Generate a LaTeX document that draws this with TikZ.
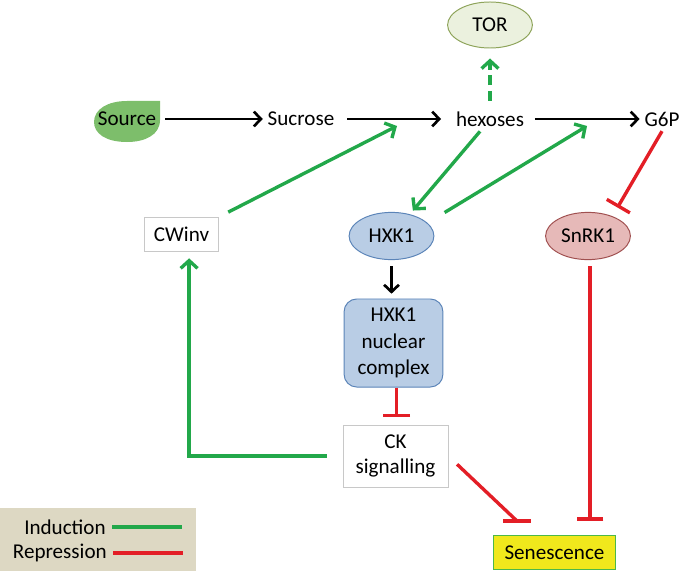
\documentclass[tikz,border=0pt]{standalone}
\usepackage{fontspec}
\setmainfont{Carlito}
\usepackage{tikz}
\usetikzlibrary{arrows.meta,positioning,shapes.geometric}
\definecolor{cind}{HTML}{22A84A}
\definecolor{crep}{HTML}{E31E26}
\definecolor{csource}{HTML}{7DBE6B}
\definecolor{ctorfill}{HTML}{EBF1DE}
\definecolor{ctordraw}{HTML}{8EA45A}
\definecolor{chxkfill}{HTML}{B9CDE5}
\definecolor{chxkdraw}{HTML}{5B84B8}
\definecolor{csnrfill}{HTML}{E6B9B8}
\definecolor{csnrdraw}{HTML}{A05050}
\definecolor{csenfill}{HTML}{F0E81C}
\definecolor{csendraw}{HTML}{4CB848}
\definecolor{clegend}{HTML}{DDD8C3}
\definecolor{cbox}{HTML}{C8C8C8}

\begin{document}
\begin{tikzpicture}[x=0.025cm,y=-0.025cm,
  font=\fontsize{15}{18}\selectfont,
  induce/.style={draw=cind,line width=2.4pt,-{Straight Barb[length=5.5pt,width=12pt]}},
  repline/.style={draw=crep,line width=2.4pt},
  repress/.style={repline,-{Bar[width=19pt]}},
  flow/.style={draw=black,line width=1.9pt,-{Straight Barb[length=5pt,width=10.5pt]}},
  plainbox/.style={draw=cbox,fill=white,line width=0.6pt,inner sep=0pt,align=center},
  blob/.style={ellipse,line width=0.7pt,minimum width=2.12cm,minimum height=1.18cm,inner sep=0pt}]
  \useasboundingbox (0,0) rectangle (681,571);
  \fill[clegend] (0,508) rectangle (196,571);
  % leaf behind the source label
  \fill[csource] (160,101) -- (160,120) .. controls (160,135) and (145,142) .. (127,142)
    .. controls (105,142) and (94,133) .. (94,122) .. controls (94,109) and (108,101) .. (127,101) -- cycle;
  \node[minimum width=1.65cm,minimum height=1.03cm,inner sep=0pt] (src) at (127,119) {Source};
  \node (suc) at (301,119) {Sucrose};
  \node (hex) at (490,119) {hexoses};
  \node (g6p) at (662,119) {G6P};
  \node[blob,draw=ctordraw,fill=ctorfill,minimum height=1.15cm] (tor) at (490,25) {TOR};
  \node[plainbox,minimum width=1.87cm,minimum height=0.87cm] (cwinv) at (181.5,234.5) {CWinv};
  \node[blob,draw=chxkdraw,fill=chxkfill] (hxk) at (391.5,236) {HXK1};
  \node[blob,draw=csnrdraw,fill=csnrfill] (snrk) at (588,236) {SnRK1};
  \node[draw=chxkdraw,fill=chxkfill,line width=0.7pt,rounded corners=9pt,
    minimum width=2.47cm,minimum height=2.2cm,inner sep=0pt,align=center,
    font=\fontsize{15}{19}\selectfont] (hxkn) at (393.5,343) {HXK1\\nuclear\\complex};
  \node[plainbox,minimum width=2.62cm,minimum height=1.55cm] (ck) at (395.5,456) {CK\\signalling};
  \node[draw=csendraw,fill=csenfill,line width=0.8pt,minimum width=3.07cm,
    minimum height=0.87cm,inner sep=0pt] (sen) at (554.5,552.5) {Senescence};
  \coordinate (sucin) at (397,126);
  \coordinate (g6pin) at (587,126);
  \coordinate (cksen) at (517,521);
  % main flow
  \draw[flow,shorten <=0.12cm] (src) -- (suc);
  \draw[flow,shorten <=0.2cm,shorten >=0.25cm] (suc) -- (hex);
  \draw[flow,shorten <=0.15cm] (hex) -- (g6p);
  \draw[induce,dash pattern=on 7pt off 4pt,shorten <=0.15cm,shorten >=0.25cm] (hex) -- (tor);
  % induction
  \draw[induce,shorten <=0.25cm] (cwinv.north east) -- (sucin);
  \draw[induce,shorten >=0.12cm] ([xshift=-0.25cm]hex.south) -- (hxk.50);
  \draw[induce,shorten <=0.5cm] (hxk.20) -- (g6pin);
  \draw[flow,shorten <=0.15cm,shorten >=0.12cm] (hxk.south) -- (hxk.south |- hxkn.north);
  \draw[induce,shorten <=0.4cm,shorten >=0.15cm] (ck.west) -| ([xshift=0.19cm]cwinv.south);
  % repression
  \draw[repress,shorten >=0.25cm] (g6p.south) -- (snrk.39);
  \draw[repress,shorten >=0.18cm] ([xshift=0.08cm]hxkn.south) -- ([xshift=0.08cm]hxkn.south |- ck.north);
  \draw[repress,shorten <=0.15cm,shorten >=0.35cm] ([xshift=0.05cm]snrk.south) -- ([xshift=0.05cm]snrk.south |- sen.north);
  \draw[repline,shorten <=0.3cm] (ck.east) -- (cksen);
  \draw[repline] ([xshift=-0.34cm]cksen) -- ([xshift=0.34cm]cksen);
  % legend
  \node[anchor=east,inner sep=0pt] (indlab) at (106,527) {Induction};
  \node[anchor=east,inner sep=0pt] (replab) at (107,553) {Repression};
  \draw[draw=cind,line width=2.4pt] ([xshift=0.15cm]indlab.east) -- ++(70,0);
  \draw[repline] ([xshift=0.15cm]replab.east) -- ++(70,0);
\end{tikzpicture}
\end{document}
